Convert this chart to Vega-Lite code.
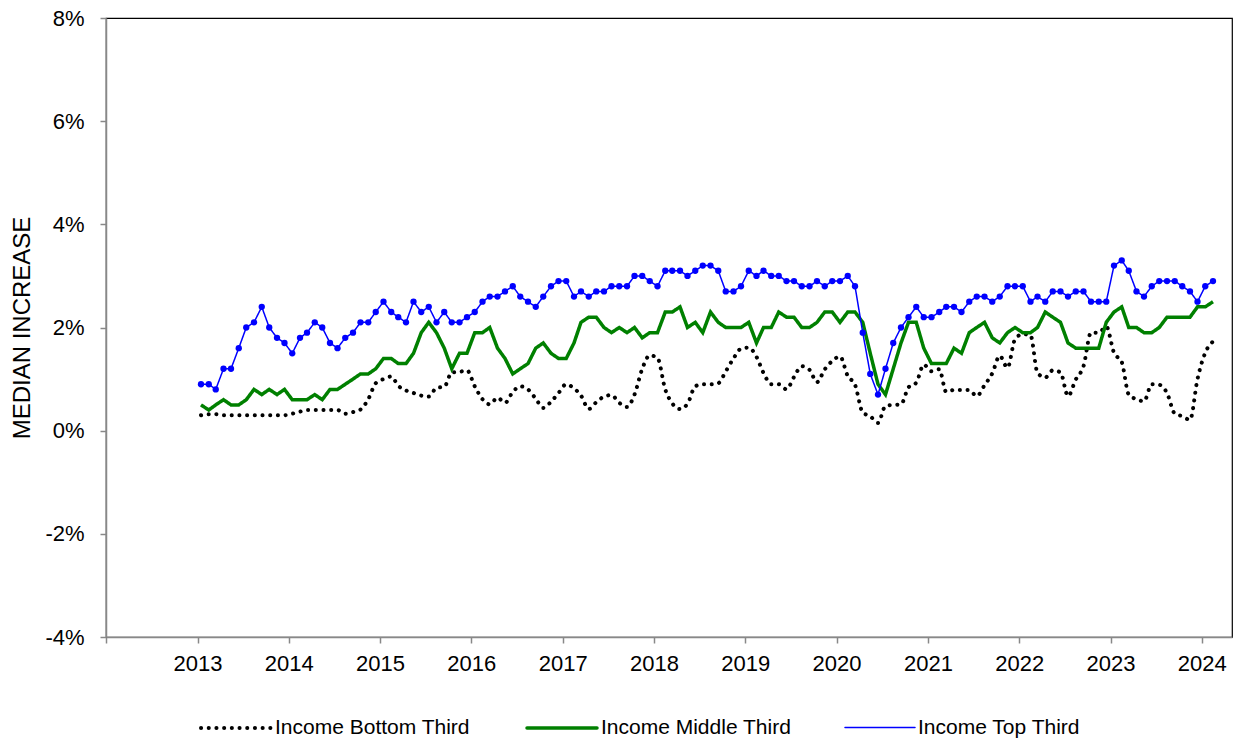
{
"$schema": "https://vega.github.io/schema/vega-lite/v6.json",
"width": 1126, "height": 619,
"autosize": {"type": "none"},
"padding": {"left": 106, "top": 18, "right": 8, "bottom": 105},
"background": "white",
"config": {
  "font": "Liberation Sans",
  "view": {"stroke": "black", "strokeWidth": 1.2},
  "axis": {"grid": false, "domainColor": "#888888", "tickColor": "#888888", "tickSize": 6, "domainWidth": 1.5, "tickWidth": 1.5, "labelColor": "black", "labelFontSize": 22, "titleFontSize": 24, "titleFontWeight": "normal", "titleColor": "black"},
  "legend": {"orient": "none", "legendX": 93, "legendY": 673, "direction": "horizontal", "symbolType": "stroke", "symbolSize": 4900, "labelFontSize": 21, "labelColor": "black", "columnPadding": 50, "labelOffset": 2, "labelLimit": 400}
},
"data": {"values": [
{"d":"2013-01-15","b":0.30,"m":0.5,"t":0.9},
{"d":"2013-02-15","b":0.32,"m":0.4,"t":0.9},
{"d":"2013-03-15","b":0.32,"m":0.5,"t":0.8},
{"d":"2013-04-15","b":0.30,"m":0.6,"t":1.2},
{"d":"2013-05-15","b":0.30,"m":0.5,"t":1.2},
{"d":"2013-06-15","b":0.30,"m":0.5,"t":1.6},
{"d":"2013-07-15","b":0.30,"m":0.6,"t":2.0},
{"d":"2013-08-15","b":0.30,"m":0.8,"t":2.1},
{"d":"2013-09-15","b":0.30,"m":0.7,"t":2.4},
{"d":"2013-10-15","b":0.30,"m":0.8,"t":2.0},
{"d":"2013-11-15","b":0.30,"m":0.7,"t":1.8},
{"d":"2013-12-15","b":0.30,"m":0.8,"t":1.7},
{"d":"2014-01-15","b":0.33,"m":0.6,"t":1.5},
{"d":"2014-02-15","b":0.37,"m":0.6,"t":1.8},
{"d":"2014-03-15","b":0.40,"m":0.6,"t":1.9},
{"d":"2014-04-15","b":0.40,"m":0.7,"t":2.1},
{"d":"2014-05-15","b":0.40,"m":0.6,"t":2.0},
{"d":"2014-06-15","b":0.40,"m":0.8,"t":1.7},
{"d":"2014-07-15","b":0.40,"m":0.8,"t":1.6},
{"d":"2014-08-15","b":0.33,"m":0.9,"t":1.8},
{"d":"2014-09-15","b":0.36,"m":1.0,"t":1.9},
{"d":"2014-10-15","b":0.41,"m":1.1,"t":2.1},
{"d":"2014-11-15","b":0.61,"m":1.1,"t":2.1},
{"d":"2014-12-15","b":0.92,"m":1.2,"t":2.3},
{"d":"2015-01-15","b":1.00,"m":1.4,"t":2.5},
{"d":"2015-02-15","b":1.05,"m":1.4,"t":2.3},
{"d":"2015-03-15","b":0.87,"m":1.3,"t":2.2},
{"d":"2015-04-15","b":0.78,"m":1.3,"t":2.1},
{"d":"2015-05-15","b":0.73,"m":1.5,"t":2.5},
{"d":"2015-06-15","b":0.68,"m":1.9,"t":2.3},
{"d":"2015-07-15","b":0.66,"m":2.1,"t":2.4},
{"d":"2015-08-15","b":0.83,"m":1.9,"t":2.1},
{"d":"2015-09-15","b":0.85,"m":1.6,"t":2.3},
{"d":"2015-10-15","b":1.13,"m":1.2,"t":2.1},
{"d":"2015-11-15","b":1.14,"m":1.5,"t":2.1},
{"d":"2015-12-15","b":1.17,"m":1.5,"t":2.2},
{"d":"2016-01-15","b":0.86,"m":1.9,"t":2.3},
{"d":"2016-02-15","b":0.61,"m":1.9,"t":2.5},
{"d":"2016-03-15","b":0.51,"m":2.0,"t":2.6},
{"d":"2016-04-15","b":0.64,"m":1.6,"t":2.6},
{"d":"2016-05-15","b":0.54,"m":1.4,"t":2.7},
{"d":"2016-06-15","b":0.75,"m":1.1,"t":2.8},
{"d":"2016-07-15","b":0.86,"m":1.2,"t":2.6},
{"d":"2016-08-15","b":0.80,"m":1.3,"t":2.5},
{"d":"2016-09-15","b":0.62,"m":1.6,"t":2.4},
{"d":"2016-10-15","b":0.44,"m":1.7,"t":2.6},
{"d":"2016-11-15","b":0.56,"m":1.5,"t":2.8},
{"d":"2016-12-15","b":0.73,"m":1.4,"t":2.9},
{"d":"2017-01-15","b":0.90,"m":1.4,"t":2.9},
{"d":"2017-02-15","b":0.82,"m":1.7,"t":2.6},
{"d":"2017-03-15","b":0.68,"m":2.1,"t":2.7},
{"d":"2017-04-15","b":0.42,"m":2.2,"t":2.6},
{"d":"2017-05-15","b":0.55,"m":2.2,"t":2.7},
{"d":"2017-06-15","b":0.66,"m":2.0,"t":2.7},
{"d":"2017-07-15","b":0.69,"m":1.9,"t":2.8},
{"d":"2017-08-15","b":0.54,"m":2.0,"t":2.8},
{"d":"2017-09-15","b":0.46,"m":1.9,"t":2.8},
{"d":"2017-10-15","b":0.70,"m":2.0,"t":3.0},
{"d":"2017-11-15","b":1.20,"m":1.8,"t":3.0},
{"d":"2017-12-15","b":1.46,"m":1.9,"t":2.9},
{"d":"2018-01-15","b":1.41,"m":1.9,"t":2.8},
{"d":"2018-02-15","b":0.80,"m":2.3,"t":3.1},
{"d":"2018-03-15","b":0.53,"m":2.3,"t":3.1},
{"d":"2018-04-15","b":0.42,"m":2.4,"t":3.1},
{"d":"2018-05-15","b":0.52,"m":2.0,"t":3.0},
{"d":"2018-06-15","b":0.86,"m":2.1,"t":3.1},
{"d":"2018-07-15","b":0.90,"m":1.9,"t":3.2},
{"d":"2018-08-15","b":0.90,"m":2.3,"t":3.2},
{"d":"2018-09-15","b":0.92,"m":2.1,"t":3.1},
{"d":"2018-10-15","b":1.15,"m":2.0,"t":2.7},
{"d":"2018-11-15","b":1.40,"m":2.0,"t":2.7},
{"d":"2018-12-15","b":1.59,"m":2.0,"t":2.8},
{"d":"2019-01-15","b":1.61,"m":2.1,"t":3.1},
{"d":"2019-02-15","b":1.43,"m":1.7,"t":3.0},
{"d":"2019-03-15","b":1.12,"m":2.0,"t":3.1},
{"d":"2019-04-15","b":0.90,"m":2.0,"t":3.0},
{"d":"2019-05-15","b":0.90,"m":2.3,"t":3.0},
{"d":"2019-06-15","b":0.80,"m":2.2,"t":2.9},
{"d":"2019-07-15","b":1.04,"m":2.2,"t":2.9},
{"d":"2019-08-15","b":1.25,"m":2.0,"t":2.8},
{"d":"2019-09-15","b":1.18,"m":2.0,"t":2.8},
{"d":"2019-10-15","b":0.94,"m":2.1,"t":2.9},
{"d":"2019-11-15","b":1.19,"m":2.3,"t":2.8},
{"d":"2019-12-15","b":1.35,"m":2.3,"t":2.9},
{"d":"2020-01-15","b":1.44,"m":2.1,"t":2.9},
{"d":"2020-02-15","b":1.06,"m":2.3,"t":3.0},
{"d":"2020-03-15","b":0.89,"m":2.3,"t":2.8},
{"d":"2020-04-15","b":0.35,"m":2.1,"t":1.9},
{"d":"2020-05-15","b":0.28,"m":1.5,"t":1.1},
{"d":"2020-06-15","b":0.15,"m":0.9,"t":0.7},
{"d":"2020-07-15","b":0.48,"m":0.7,"t":1.2},
{"d":"2020-08-15","b":0.50,"m":1.2,"t":1.7},
{"d":"2020-09-15","b":0.51,"m":1.7,"t":2.0},
{"d":"2020-10-15","b":0.84,"m":2.1,"t":2.2},
{"d":"2020-11-15","b":0.93,"m":2.1,"t":2.4},
{"d":"2020-12-15","b":1.28,"m":1.6,"t":2.2},
{"d":"2021-01-15","b":1.15,"m":1.3,"t":2.2},
{"d":"2021-02-15","b":1.19,"m":1.3,"t":2.3},
{"d":"2021-03-15","b":0.75,"m":1.3,"t":2.4},
{"d":"2021-04-15","b":0.79,"m":1.6,"t":2.4},
{"d":"2021-05-15","b":0.79,"m":1.5,"t":2.3},
{"d":"2021-06-15","b":0.79,"m":1.9,"t":2.5},
{"d":"2021-07-15","b":0.67,"m":2.0,"t":2.6},
{"d":"2021-08-15","b":0.88,"m":2.1,"t":2.6},
{"d":"2021-09-15","b":1.11,"m":1.8,"t":2.5},
{"d":"2021-10-15","b":1.45,"m":1.7,"t":2.6},
{"d":"2021-11-15","b":1.22,"m":1.9,"t":2.8},
{"d":"2021-12-15","b":1.77,"m":2.0,"t":2.8},
{"d":"2022-01-15","b":1.87,"m":1.9,"t":2.8},
{"d":"2022-02-15","b":1.85,"m":1.9,"t":2.5},
{"d":"2022-03-15","b":1.12,"m":2.0,"t":2.6},
{"d":"2022-04-15","b":1.03,"m":2.3,"t":2.5},
{"d":"2022-05-15","b":1.17,"m":2.2,"t":2.7},
{"d":"2022-06-15","b":1.13,"m":2.1,"t":2.7},
{"d":"2022-07-15","b":0.67,"m":1.7,"t":2.6},
{"d":"2022-08-15","b":0.99,"m":1.6,"t":2.7},
{"d":"2022-09-15","b":1.25,"m":1.6,"t":2.7},
{"d":"2022-10-15","b":1.90,"m":1.6,"t":2.5},
{"d":"2022-11-15","b":1.90,"m":1.6,"t":2.5},
{"d":"2022-12-15","b":2.02,"m":2.1,"t":2.5},
{"d":"2023-01-15","b":1.51,"m":2.3,"t":3.2},
{"d":"2023-02-15","b":1.33,"m":2.4,"t":3.3},
{"d":"2023-03-15","b":0.70,"m":2.0,"t":3.1},
{"d":"2023-04-15","b":0.61,"m":2.0,"t":2.7},
{"d":"2023-05-15","b":0.57,"m":1.9,"t":2.6},
{"d":"2023-06-15","b":0.90,"m":1.9,"t":2.8},
{"d":"2023-07-15","b":0.89,"m":2.0,"t":2.9},
{"d":"2023-08-15","b":0.73,"m":2.2,"t":2.9},
{"d":"2023-09-15","b":0.33,"m":2.2,"t":2.9},
{"d":"2023-10-15","b":0.28,"m":2.2,"t":2.8},
{"d":"2023-11-15","b":0.21,"m":2.2,"t":2.7},
{"d":"2023-12-15","b":1.00,"m":2.4,"t":2.5},
{"d":"2024-01-15","b":1.51,"m":2.4,"t":2.8},
{"d":"2024-02-15","b":1.73,"m":2.5,"t":2.9}
]},
"transform": [{"fold": ["b", "m", "t"], "as": ["series", "value"]}],
"encoding": {
  "x": {"field": "d", "type": "temporal", "title": null,
        "scale": {"type": "utc", "domain": ["2012-01-01", "2024-05-01"]},
        "axis": {"tickCount": {"interval": "year", "step": 1}, "labelExpr": "utcyear(datum.value) == 2012 ? '' : utcFormat(datum.value, '%Y')", "labelPadding": 10, "labelFlush": false, "labelOverlap": false}},
  "y": {"field": "value", "type": "quantitative", "title": "MEDIAN INCREASE",
        "scale": {"domain": [-4, 8], "nice": false, "zero": false},
        "axis": {"values": [-4, -2, 0, 2, 4, 6, 8], "labelExpr": "datum.value + '%'", "labelPadding": 16, "titlePadding": 10}},
  "color": {"field": "series", "type": "nominal",
            "scale": {"domain": ["b", "m", "t"], "range": ["#000000", "#008000", "#0000ff"]},
            "legend": {"title": null, "labelExpr": "datum.label == 'b' ? 'Income Bottom Third' : datum.label == 'm' ? 'Income Middle Third' : 'Income Top Third'", "encode": {"symbols": {"update": {"strokeCap": {"value": "round"}}}}}}
},
"layer": [
  {"transform": [{"filter": "datum.series == 'b'"}],
   "mark": {"type": "line", "interpolate": "monotone", "strokeCap": "round"},
   "encoding": {
     "strokeDash": {"field": "series", "type": "nominal", "scale": {"domain": ["b", "m", "t"], "range": [[0.1, 7.6], [1, 0], [1, 0]]}, "legend": {"title": null, "labelExpr": "datum.label == 'b' ? 'Income Bottom Third' : datum.label == 'm' ? 'Income Middle Third' : 'Income Top Third'", "encode": {"symbols": {"update": {"strokeCap": {"value": "round"}}}}}},
     "strokeWidth": {"field": "series", "type": "nominal", "scale": {"type": "ordinal", "domain": ["b", "m", "t"], "range": [4, 3.5, 1.5]}, "legend": {"title": null, "labelExpr": "datum.label == 'b' ? 'Income Bottom Third' : datum.label == 'm' ? 'Income Middle Third' : 'Income Top Third'", "encode": {"symbols": {"update": {"strokeCap": {"value": "round"}}}}}}
   }},
  {"transform": [{"filter": "datum.series != 'b'"}],
   "mark": {"type": "line"},
   "encoding": {
     "strokeDash": {"field": "series", "type": "nominal", "scale": {"domain": ["b", "m", "t"], "range": [[0.1, 7.6], [1, 0], [1, 0]]}, "legend": {"title": null, "labelExpr": "datum.label == 'b' ? 'Income Bottom Third' : datum.label == 'm' ? 'Income Middle Third' : 'Income Top Third'", "encode": {"symbols": {"update": {"strokeCap": {"value": "round"}}}}}},
     "strokeWidth": {"field": "series", "type": "nominal", "scale": {"type": "ordinal", "domain": ["b", "m", "t"], "range": [4, 3.5, 1.5]}, "legend": {"title": null, "labelExpr": "datum.label == 'b' ? 'Income Bottom Third' : datum.label == 'm' ? 'Income Middle Third' : 'Income Top Third'", "encode": {"symbols": {"update": {"strokeCap": {"value": "round"}}}}}}
   }},
  {"transform": [{"filter": "datum.series == 't'"}],
   "mark": {"type": "point", "filled": true, "size": 40, "opacity": 1}}
]
}
